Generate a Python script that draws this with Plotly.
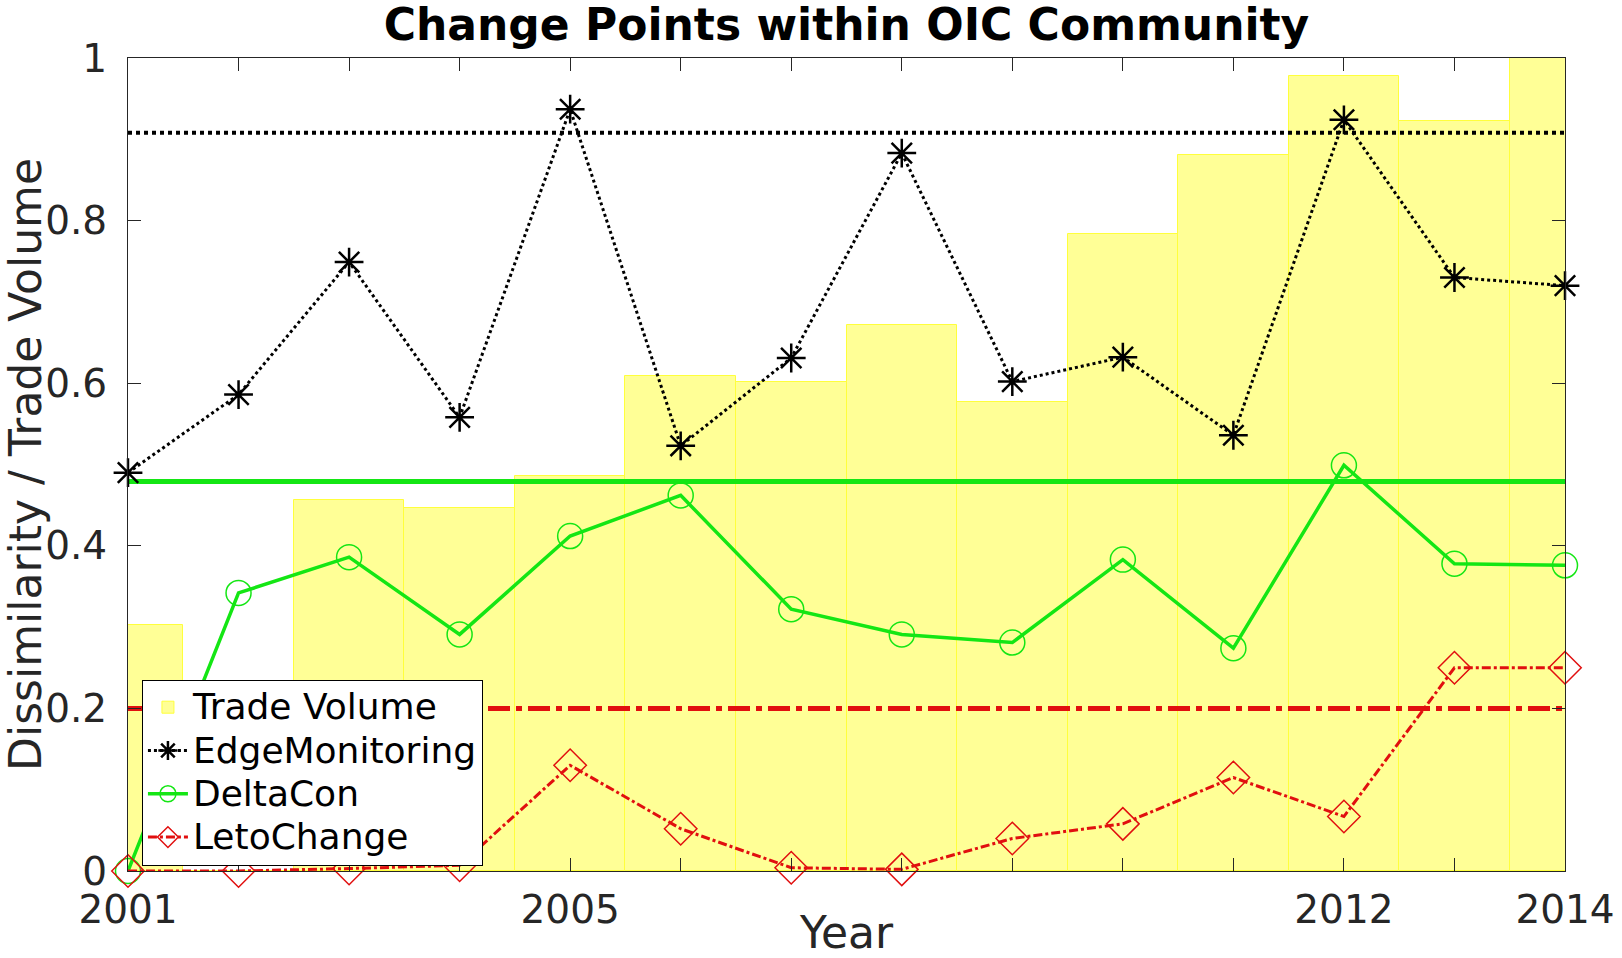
import plotly.graph_objects as go

years = list(range(2001, 2015))
trade_volume = [0.302, 0.0, 0.456, 0.446, 0.486, 0.609, 0.602, 0.672, 0.577, 0.783, 0.881, 0.978, 0.922, 1.0]
edge_monitoring = [0.490, 0.586, 0.749, 0.558, 0.937, 0.523, 0.631, 0.883, 0.602, 0.632, 0.536, 0.924, 0.730, 0.720]
delta_con = [0.0, 0.342, 0.386, 0.291, 0.412, 0.462, 0.322, 0.291, 0.281, 0.383, 0.274, 0.499, 0.378, 0.376]
leto_change = [0.0, 0.0, 0.003, 0.007, 0.130, 0.052, 0.004, 0.002, 0.040, 0.058, 0.115, 0.067, 0.250, 0.250]

edge_threshold = 0.908
delta_threshold = 0.479
leto_threshold = 0.200

series_names = ["Trade Volume", "EdgeMonitoring", "DeltaCon", "LetoChange"]
x_tick_labels = {2001: "2001", 2005: "2005", 2012: "2012", 2014: "2014"}
y_ticks = [0, 0.2, 0.4, 0.6, 0.8, 1]
y_tick_labels = ["0", "0.2", "0.4", "0.6", "0.8", "1"]

BLACK = "#000000"
GREEN = "rgb(20,230,20)"
RED = "rgb(225,15,15)"
FONT = "DejaVu Sans"


def legend_label(name):
    return f"<span style='font-size:36px'>{name}</span>"


fig = go.Figure()

fig.add_trace(go.Bar(
    x=years, y=trade_volume, width=1, name=legend_label(series_names[0]),
    marker=dict(color="rgb(255,255,150)", line=dict(color="rgb(255,255,60)", width=1)),
))

span = [years[0], years[-1]]
fig.add_trace(go.Scatter(x=span, y=[edge_threshold] * 2, mode="lines", showlegend=False,
                         line=dict(color=BLACK, width=4, dash="dot"), hoverinfo="skip"))
fig.add_trace(go.Scatter(x=span, y=[delta_threshold] * 2, mode="lines", showlegend=False,
                         line=dict(color=GREEN, width=5), hoverinfo="skip"))
fig.add_trace(go.Scatter(x=span, y=[leto_threshold] * 2, mode="lines", showlegend=False,
                         line=dict(color=RED, width=5, dash="22px,6px,6px,6px"), hoverinfo="skip"))

fig.add_trace(go.Scatter(
    x=years, y=edge_monitoring, name=legend_label(series_names[1]), mode="lines+markers", cliponaxis=False,
    line=dict(color=BLACK, width=3, dash="dot"),
    marker=dict(symbol="asterisk-open", size=24, color=BLACK, line=dict(color=BLACK, width=2.5)),
))
fig.add_trace(go.Scatter(
    x=years, y=delta_con, name=legend_label(series_names[2]), mode="lines+markers", cliponaxis=False,
    line=dict(color=GREEN, width=3.5),
    marker=dict(symbol="circle-open", size=25, color=GREEN, line=dict(color=GREEN, width=1.5)),
))
fig.add_trace(go.Scatter(
    x=years, y=leto_change, name=legend_label(series_names[3]), mode="lines+markers", cliponaxis=False,
    line=dict(color=RED, width=3, dash="dashdot"),
    marker=dict(symbol="diamond-open", size=25, color=RED, line=dict(color=RED, width=1.5)),
))

fig.update_layout(
    width=1622, height=958,
    margin=dict(l=128, r=57, t=58, b=87),
    paper_bgcolor="white", plot_bgcolor="white",
    font=dict(family=FONT, color="#262626"),
    bargap=0,
    title=dict(text="<b>Change Points within OIC Community</b>", x=0.5, xref="paper",
               y=1 - 25 / 958, yref="container", xanchor="center", yanchor="middle",
               font=dict(family=FONT, size=44, color="black")),
    legend=dict(x=0.0097, y=0.2355, xanchor="left", yanchor="top",
                bgcolor="white", bordercolor="black", borderwidth=1, itemwidth=40,
                font=dict(family=FONT, size=31, color="black"), tracegroupgap=0),
    showlegend=True,
)

fig.update_xaxes(
    range=[years[0], years[-1]], automargin=False,
    tickvals=years, ticktext=[x_tick_labels.get(y, "") for y in years],
    ticks="inside", ticklen=13, tickwidth=1, tickcolor="#262626",
    showline=True, linecolor="#262626", linewidth=1, mirror="ticks",
    showgrid=False, zeroline=False,
    tickfont=dict(family=FONT, size=39, color="#262626"),
    ticklabelstandoff=4,
    title=dict(text="Year", font=dict(family=FONT, size=44, color="#262626"), standoff=2),
)
fig.update_yaxes(
    range=[0, 1], automargin=False,
    tickvals=y_ticks, ticktext=y_tick_labels,
    ticks="inside", ticklen=13, tickwidth=1, tickcolor="#262626",
    showline=True, linecolor="#262626", linewidth=1, mirror="ticks",
    showgrid=False, zeroline=False,
    tickfont=dict(family=FONT, size=39, color="#262626"),
    ticklabelstandoff=12,
    title=dict(text="Dissimilarity / Trade Volume", font=dict(family=FONT, size=44, color="#262626"), standoff=8),
)

fig.write_html("out.html")
